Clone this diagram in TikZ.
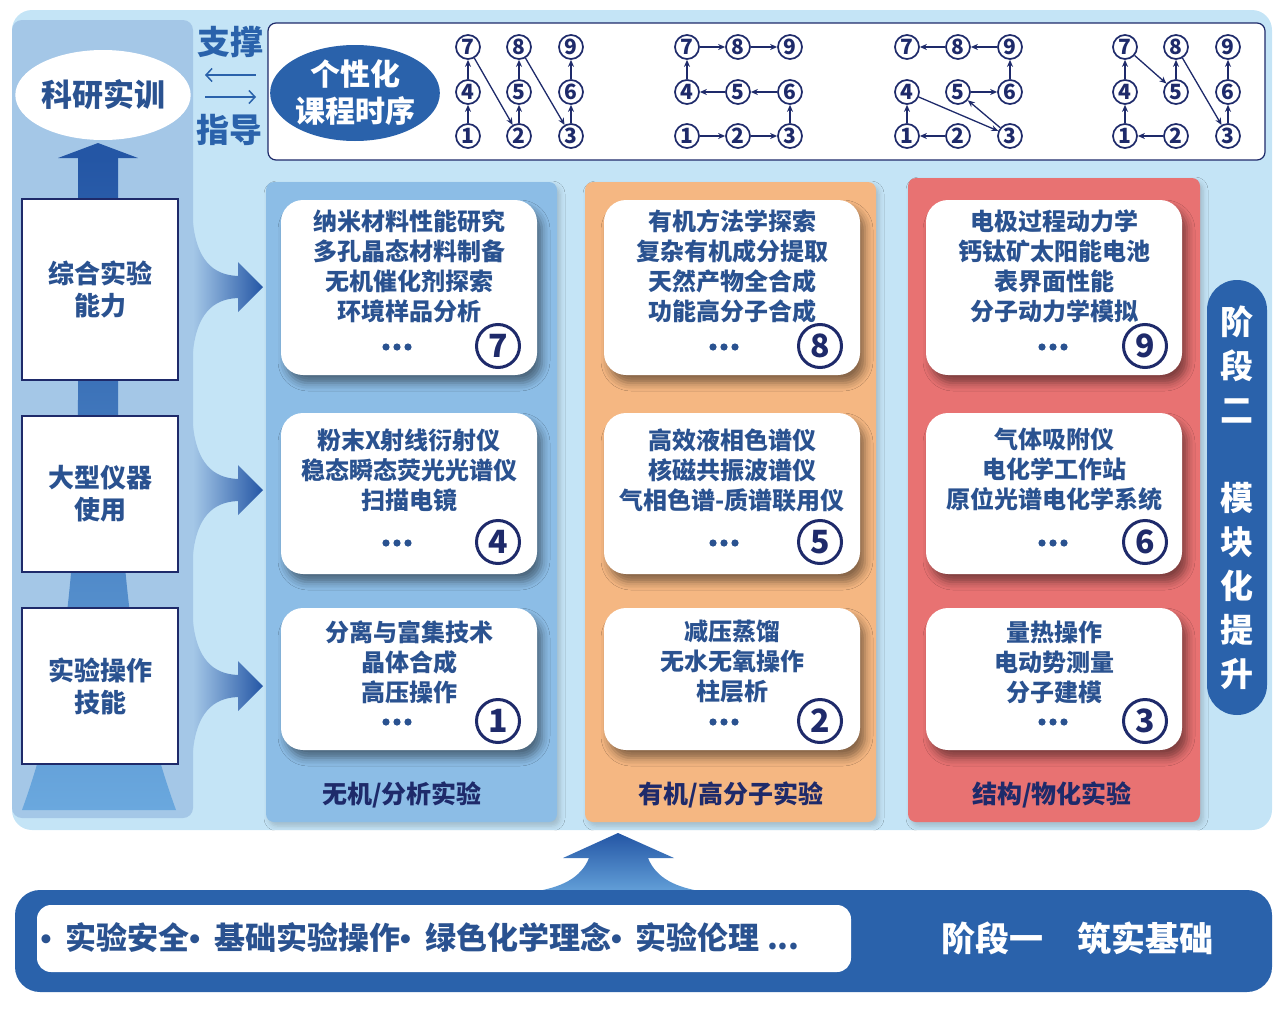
\documentclass[tikz,border=0pt]{standalone}
\usepackage{fontspec}
\setmainfont{Noto Sans CJK SC}
\newfontfamily\latinf{Liberation Sans}
\usetikzlibrary{shapes.geometric,arrows.meta,shadows.blur}

\definecolor{bgblue}{HTML}{C4E4F6}
\definecolor{leftblue}{HTML}{A4C7E7}
\definecolor{colblue}{HTML}{8CBDE6}
\definecolor{colorange}{HTML}{F5B782}
\definecolor{colred}{HTML}{E87272}
\definecolor{txtblue}{HTML}{2A5290}
\definecolor{numblue}{HTML}{1E2A6A}
\definecolor{deepblue}{HTML}{2A62AB}
\definecolor{darkshaft}{HTML}{2456A5}
\definecolor{paleshaft}{HTML}{6AA8DE}

\newcommand{\bfsz}[2]{\bfseries\fontsize{#1}{#2}\selectfont}
\newcommand{\dotsep}{{\latinf\bfseries •}\hspace{14pt}}

\tikzset{
  seqnum/.style={circle,draw=numblue,line width=1.7pt,minimum size=24pt,inner sep=0pt,
    text=numblue,font=\bfsz{21}{21}},
  seqarr/.style={draw=numblue,line width=1.3pt,-{Stealth[length=7pt,width=6pt]}},
  card/.style={fill=white,rounded corners=22pt,minimum width=256pt,
    blur shadow={shadow xshift=5pt,shadow yshift=-8pt,shadow blur radius=8pt,shadow opacity=45}},
  cardtxt/.style={text=txtblue,align=center,font=\bfsz{24}{30}},
  bignum/.style={circle,draw=numblue,line width=3pt,minimum size=43pt,inner sep=0pt,
    text=numblue,font=\bfsz{32}{32}},
  skillbox/.style={draw=numblue,line width=1.8pt,fill=white,minimum width=156pt,
    text=txtblue,align=center,font=\bfsz{26}{32}},
  coltitle/.style={text=numblue,font=\bfsz{25}{25}},
  panel/.style={rounded corners=8pt,
    blur shadow={shadow xshift=3pt,shadow yshift=-4pt,shadow blur radius=5pt,shadow opacity=18}}
}

% 模块卡片: 编号, x, y, 高, 文字y, 编号x, 底行y, 点x, 文字
\newcommand{\modcard}[9]{%
  \node[card,minimum height=#4pt] (c#1) at (#2,#3) {};
  \node[cardtxt] (t#1) at (#2,#5) {#9};
  \node[bignum] (n#1) at (#6,#7) {#1};
  \foreach \d in {-11,0,11} \fill[txtblue] (#8+\d,#7+1) circle (3.6pt);
}

\begin{document}
\begin{tikzpicture}[x=1pt,y=-1pt]
  \useasboundingbox (0,0) rectangle (1280,1009);
  \fill[bgblue,rounded corners=20pt] (12,10) rectangle (1272,830); % 底
  \fill[leftblue,rounded corners=10pt] (12,20) rectangle (193,818); % 左栏

  % 左栏主干
  \shade[top color=darkshaft,bottom color=paleshaft] (78,158) -- (78,400)
    .. controls (77,580) and (62,700) .. (22,810) -- (176,810)
    .. controls (136,700) and (119,580) .. (118,400) -- (118,158) -- cycle;
  \fill[darkshaft] (58,158) -- (98,143) -- (138,158) -- cycle;

  \node[ellipse,fill=white,inner sep=0pt,minimum width=170pt,minimum height=90pt,
    text=txtblue,font=\bfsz{31}{31}] (ky) at (103,95) {科研实训};
  \node[skillbox,minimum height=181pt] (zh) at (100,289.5) {综合实验\\能力};
  \node[skillbox,minimum height=156pt] (dx) at (100,494) {大型仪器\\使用};
  \node[skillbox,minimum height=156pt] (sy) at (100,686) {实验操作\\技能};

  % 支撑 / 指导
  \node[text=deepblue,font=\bfsz{33}{33}] (zc) at (230,42) {支撑};
  \node[text=deepblue,font=\bfsz{33}{33}] (zd) at (229,130) {指导};
  \coordinate (la) at (205,75);
  \coordinate (lb) at (256,75);
  \coordinate (ra) at (205,97);
  \coordinate (rb) at (256,97);
  \draw[deepblue,line width=1.5pt,{Straight Barb[length=6pt,width=13pt]}-] (la) -- (lb);
  \draw[deepblue,line width=1.5pt,-{Straight Barb[length=6pt,width=13pt]}] (ra) -- (rb);

  % 课程时序
  \node[draw=numblue,line width=1.2pt,fill=white,rounded corners=8pt,
    minimum width=997pt,minimum height=137pt] (seqbox) at (766.5,91.5) {};
  \node[ellipse,fill=deepblue,inner sep=0pt,minimum width=165pt,minimum height=96pt,
    text=white,align=center,font=\bfsz{30}{37}] (gx) at (355,93) {个性化\\课程时序};
  \foreach \g/\x in {a/468,b/687,c/907,d/1125}{
    \foreach \n/\dx/\y in {1/0/136,2/51/136,3/103/136,4/0/92,5/51/92,6/103/92,7/0/47,8/51/47,9/103/47}
      \node[seqnum] (\g\n) at (\x+\dx,\y) {\n};
  }
  \foreach \p/\q in {1/4,4/7,7/2,2/5,5/8,8/3,3/6,6/9} \draw[seqarr] (a\p) -- (a\q);
  \foreach \p/\q in {1/2,2/3,3/6,6/5,5/4,4/7,7/8,8/9} \draw[seqarr] (b\p) -- (b\q);
  \foreach \p/\q in {2/1,1/4,4/3,3/5,5/6,6/9,9/8,8/7} \draw[seqarr] (c\p) -- (c\q);
  \foreach \p/\q in {2/1,1/4,4/7,7/5,5/8,8/3,3/6,6/9} \draw[seqarr] (d\p) -- (d\q);

  % 三个实验模块
  \fill[panel,colblue] (266,182) rectangle (557,822);
  \fill[panel,colorange] (585,182) rectangle (876,822);
  \fill[panel,colred] (908,178) rectangle (1200,822);
  \node[coltitle] (lb1) at (402,795) {无机/分析实验};
  \node[coltitle] (lb2) at (731,795) {有机/高分子实验};
  \node[coltitle] (lb3) at (1052,795) {结构/物化实验};

  % 弯箭头
  \foreach \c in {287,490,686}
    \shade[left color=leftblue,right color=darkshaft] (193,\c-64)
      .. controls (197,\c-28) and (212,\c-12) .. (238,\c-11) -- (238,\c-25) -- (263,\c)
      -- (238,\c+25) -- (238,\c+11) .. controls (212,\c+12) and (197,\c+28) .. (193,\c+64) -- cycle;

  \modcard{7}{409}{287.5}{175}{266}{498}{346}{397}{纳米材料性能研究\\多孔晶态材料制备\\无机催化剂探索\\环境样品分析}
  \modcard{8}{732}{287.5}{175}{266}{820}{346}{724}{有机方法学探索\\复杂有机成分提取\\天然产物全合成\\功能高分子合成}
  \modcard{9}{1054}{287.5}{175}{266}{1145}{346}{1053}{电极过程动力学\\钙钛矿太阳能电池\\表界面性能\\分子动力学模拟}
  \modcard{4}{409}{493.5}{161}{470}{498}{542}{397}{粉末X射线衍射仪\\稳态瞬态荧光光谱仪\\扫描电镜}
  \modcard{5}{732}{493.5}{161}{470}{820}{542}{724}{高效液相色谱仪\\核磁共振波谱仪\\气相色谱-质谱联用仪}
  \modcard{6}{1054}{493.5}{161}{470}{1145}{542}{1053}{气体吸附仪\\电化学工作站\\原位光谱电化学系统}
  \modcard{1}{409}{679}{142}{662}{498}{721}{397}{分离与富集技术\\晶体合成\\高压操作}
  \modcard{2}{732}{679}{142}{662}{820}{721}{724}{减压蒸馏\\无水无氧操作\\柱层析}
  \modcard{3}{1054}{679}{142}{662}{1145}{721}{1053}{量热操作\\电动势测量\\分子建模}

  % 阶段二
  \node[fill=deepblue,rounded corners=30pt,minimum width=60pt,minimum height=435pt,
    text=white,align=center,font=\bfsz{33}{44}] (st2) at (1237,497.5)
    {阶\\段\\二\\[44pt]模\\块\\化\\提\\升};

  % 阶段一
  \shade[top color=darkshaft,bottom color=paleshaft!90!darkshaft] (618,833) -- (674,858) -- (648,858)
    .. controls (656,878) and (676,888) .. (706,892) -- (531,892)
    .. controls (561,888) and (581,878) .. (589,858) -- (563,858) -- cycle;
  \node[fill=deepblue,rounded corners=25pt,minimum width=1257pt,minimum height=102pt] (base) at (643.5,941) {};
  \node[fill=white,rounded corners=14pt,minimum width=814pt,minimum height=67pt] (basic) at (444,938.5) {};
  \node[anchor=west,text=txtblue,font=\bfsz{31}{31}] (jc) at (37,938)
    {\dotsep 实验安全\dotsep 基础实验操作\dotsep 绿色化学理念\dotsep 实验伦理 ...};
  \node[text=white,font=\bfsz{34}{34}] (st1) at (1077,938) {阶段一\quad 筑实基础};
\end{tikzpicture}
\end{document}
